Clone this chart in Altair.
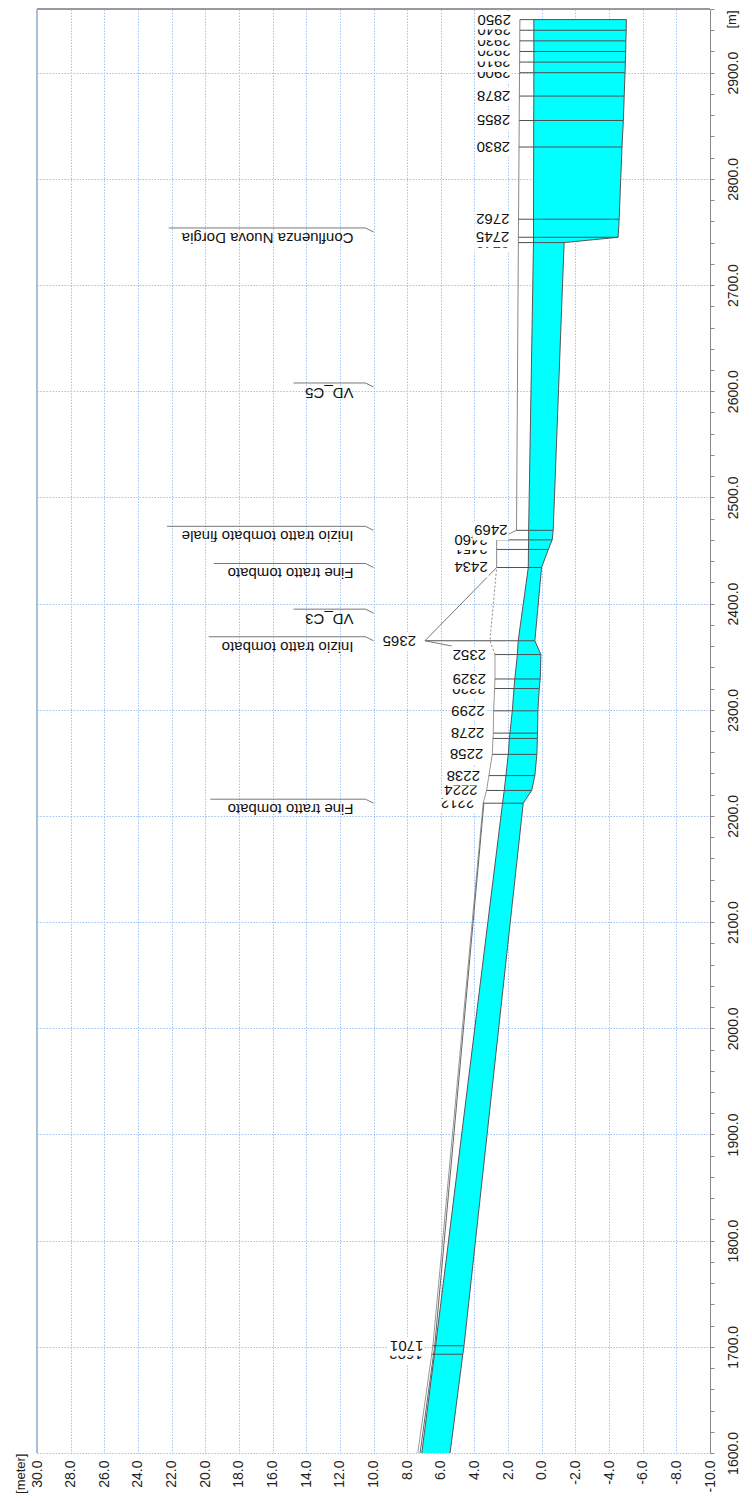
import altair as alt
import pandas as pd

FONT = "Liberation Sans"

# ---------------- data ----------------
prof_ch = [1600, 1693, 1701, 2212, 2224, 2238, 2258, 2273, 2278, 2299, 2320, 2329,
           2352, 2365, 2434, 2451, 2460, 2469, 2740, 2745, 2762, 2830, 2855, 2878,
           2900, 2910, 2920, 2930, 2940, 2950]
bed_elev = [5.45, 4.69, 4.62, 1.10, 0.60, 0.41, 0.29, 0.26, 0.25, 0.23, 0.15, 0.09,
            0.05, 0.41, 0.01, -0.39, -0.62, -0.68, -1.33, -4.54, -4.60, -4.77, -4.85, -4.90,
            -4.95, -4.97, -4.99, -5.00, -5.02, -5.03]
ws_elev = [7.13, 6.38, 6.31, 2.33, 2.23, 2.13, 1.99, 1.92, 1.89, 1.75, 1.65, 1.60,
           1.45, 1.40, 0.80, 0.79, 0.78, 0.78, 0.49, 0.49, 0.49, 0.48, 0.48, 0.47,
           0.47, 0.47, 0.47, 0.47, 0.47, 0.47]

xs_ch = [1693, 1701, 2212, 2224, 2238, 2258, 2273, 2278, 2299, 2320, 2329, 2352,
         2365, 2434, 2451, 2460, 2469, 2740, 2745, 2762, 2830, 2855, 2878,
         2900, 2910, 2920, 2930, 2940, 2950]
xs_top = [6.55, 6.50, 3.48, 3.28, 3.14, 2.94, 2.90, 2.88, 2.86, 2.80, 2.78, 2.78,
          6.94, 2.68, 2.68, 2.68, 1.50, 1.39, 1.39, 1.38, 1.35, 1.34, 1.33,
          1.32, 1.32, 1.31, 1.31, 1.30, 1.30]
xs_label = ["1693", "1701", "2212", "2224", "2238", "2258", "2273", "2278", "2299",
            "2320", "2329", "2352", "2365", "2434", "2451", "2460", "2469", "2740",
            "2745", "2762", "2830", "2855", "2878", "2900", "2910", "2920", "2930",
            "2940", "2950"]

bank1_ch = [1600, 1693, 1701, 2212, 2224, 2238, 2258, 2273, 2278, 2299, 2320, 2329, 2352]
bank1_elev = [7.37, 6.54, 6.47, 3.48, 3.28, 3.14, 2.94, 2.90, 2.88, 2.86, 2.80, 2.78, 2.78]
bank2_ch = [1600, 1701, 2212]
bank2_elev = [7.23, 6.36, 3.44]
culvert_ch = [2352, 2365, 2434]
culvert_elev = [2.78, 3.08, 2.68]
bank3_ch = [2434, 2451, 2460, 2469, 2740, 2745, 2762, 2830, 2855, 2878, 2900, 2950]
bank3_elev = [2.68, 2.68, 2.68, 1.50, 1.39, 1.39, 1.38, 1.35, 1.34, 1.33, 1.32, 1.30]

lead_from = (6.94, 2365)
lead_to_elev = [2.68, 5.35]
lead_to_ch = [2434, 2360]

ann_text = ["Confluenza Nuova Dorgia", "VD_C5", "Inizio tratto tombato finale",
            "Fine tratto tombato", "VD_C3", "Inizio tratto tombato", "Fine tratto tombato"]
ann_ch = [2750, 2604, 2469, 2434, 2391, 2365, 2212]
ann_ext = [22.17, 14.75, 22.27, 19.5, 14.75, 19.8, 19.7]
ann_anchor = 10.0

elev_ticks = list(range(-10, 31, 2))
ch_ticks = list(range(1600, 2961, 20))

# ---------------- tables ----------------
prof = pd.DataFrame({"ch": prof_ch, "bed": bed_elev, "ws": ws_elev})
bed_at = dict(zip(prof_ch, bed_elev))
xs = pd.DataFrame({"ch": xs_ch, "top": xs_top, "bed": [bed_at[c] for c in xs_ch],
                   "lab": xs_label})
bank1 = pd.DataFrame({"ch": bank1_ch, "e": bank1_elev})
bank2 = pd.DataFrame({"ch": bank2_ch, "e": bank2_elev})
bank3 = pd.DataFrame({"ch": bank3_ch, "e": bank3_elev})
culv = pd.DataFrame({"ch": culvert_ch, "e": culvert_elev})
leads = pd.DataFrame({"x0": [lead_from[0]] * len(lead_to_elev),
                      "y0": [lead_from[1]] * len(lead_to_elev),
                      "x1": lead_to_elev, "y1": lead_to_ch})
ann = pd.DataFrame({"txt": ann_text, "ch": ann_ch, "ext": ann_ext,
                    "ae": [ann_anchor] * len(ann_text)})

# ---------------- scales / axes ----------------
GRID = "#9cc3f5"
xscale = alt.Scale(domain=[-10, 30], reverse=True, nice=False, zero=False)
yscale = alt.Scale(domain=[1600, 2960], nice=False, zero=False)

xaxis = alt.Axis(
    orient="bottom", values=elev_ticks,
    labelExpr="replace(format(datum.value, '.1f'), '\u2212', '-')",
    labelAngle=270, labelAlign="right", labelBaseline="middle", labelPadding=7,
    labelFont=FONT, labelFontSize=14, labelColor="#222",
    labelFlush=False, labelOverlap=False, labelBound=False,
    ticks=False, domain=False,
    grid=True, gridColor=GRID, gridDash=[1.5, 1.5], gridWidth=1,
    title="[meter]", titleAngle=270, titleAlign="right", titleBaseline="middle",
    titleX=-17, titleY=0, titleFont=FONT, titleFontSize=13,
    titleFontWeight="normal", titleColor="#222",
)
yaxis = alt.Axis(
    orient="right", values=ch_ticks,
    labelExpr="datum.value % 100 === 0 ? format(datum.value, '.1f') : ''",
    labelAngle=270, labelAlign="center", labelBaseline="top", labelPadding=12,
    labelFont=FONT, labelFontSize=14, labelColor="#222",
    labelFlush=False, labelOverlap=False, labelBound=False,
    tickSize=4, tickColor="#888", domain=True, domainColor="#888",
    grid=True, gridColor=GRID, gridDash=[1.5, 1.5], gridWidth=1,
    gridOpacity={"condition": {"test": "datum.value % 100 === 0", "value": 1}, "value": 0},
    title="[m]", titleAngle=270, titleAlign="right", titleBaseline="middle",
    titleX=21, titleY=1, titleFont=FONT, titleFontSize=13,
    titleFontWeight="normal", titleColor="#222",
)


def X(f):
    return alt.X(f, type="quantitative", scale=xscale, axis=xaxis, stack=None)


def Y(f):
    return alt.Y(f, type="quantitative", scale=yscale, axis=yaxis)


layers = []

# water body
layers.append(alt.Chart(prof).mark_area(color="#00FFFF", fill="#00FFFF", opacity=1,
                                        fillOpacity=1, orient="horizontal")
              .encode(x=X("ws"), x2=alt.X2("bed"), y=Y("ch")))
layers.append(alt.Chart(prof).mark_line(color="#555555", strokeWidth=1)
              .encode(x=X("ws"), y=Y("ch"), order="ch:Q"))
layers.append(alt.Chart(prof).mark_line(color="#555555", strokeWidth=1)
              .encode(x=X("bed"), y=Y("ch"), order="ch:Q"))

# bank / top lines
layers.append(alt.Chart(bank1).mark_line(color="#999999", strokeWidth=1)
              .encode(x=X("e"), y=Y("ch"), order="ch:Q"))
layers.append(alt.Chart(bank2).mark_line(color="#666666", strokeWidth=1)
              .encode(x=X("e"), y=Y("ch"), order="ch:Q"))
layers.append(alt.Chart(bank3).mark_line(color="#888888", strokeWidth=1)
              .encode(x=X("e"), y=Y("ch"), order="ch:Q"))
layers.append(alt.Chart(culv).mark_line(color="#888888", strokeWidth=1, strokeDash=[2, 2])
              .encode(x=X("e"), y=Y("ch"), order="ch:Q"))

# cross-section lines
layers.append(alt.Chart(xs).mark_rule(color="#505050", strokeWidth=1)
              .encode(x=X("top"), x2="bed", y=Y("ch")))
# leaders of the culvert label
layers.append(alt.Chart(leads).mark_rule(color="#777777", strokeWidth=1)
              .encode(x=X("x0"), x2="x1", y=Y("y0"), y2="y1"))

# description annotations
layers.append(alt.Chart(ann).mark_rule(color="#777777", strokeWidth=1, x2Offset=-8, y2Offset=-4)
              .encode(x=X("ae"), x2="ae", y=Y("ch"), y2="ch"))
layers.append(alt.Chart(ann).mark_rule(color="#777777", strokeWidth=1, xOffset=-8, yOffset=-4)
              .encode(x=X("ae"), x2="ext", y=Y("ch")))
layers.append(alt.Chart(ann).mark_text(angle=180, align="left", baseline="middle",
                                       xOffset=-20, yOffset=6, fontSize=15, font=FONT,
                                       color="#111111")
              .encode(x=X("ae"), y=Y("ch"), text="txt"))

# plot frame (top and left)
layers.append(alt.Chart(prof).mark_rule(color="#999999", strokeWidth=1)
              .encode(x=alt.value(0), x2=alt.value(673), y=alt.value(0)))
layers.append(alt.Chart(prof).mark_rule(color="#a9bfd6", strokeWidth=1)
              .encode(x=alt.value(0), y=alt.value(0), y2=alt.value(1444)))

# cross-section labels, each with a white box; higher chainage drawn on top
BOX = "M-1,-0.5L1,-0.5L1,0.5L-1,0.5Z"
for c in sorted(xs_ch):
    base = alt.Chart(xs).transform_filter(alt.datum.ch == c)
    layers.append(base.mark_point(shape=BOX, filled=True, color="white", opacity=1,
                                  size=1296, strokeWidth=0, xOffset=-26, yOffset=1)
                  .encode(x=X("top"), y=Y("ch")))
    layers.append(base.mark_text(angle=180, align="left", baseline="middle", xOffset=-9,
                                 fontSize=15, font=FONT, color="#111111")
                  .encode(x=X("top"), y=Y("ch"), text="lab:N"))

chart = alt.layer(*layers).properties(
    width=673, height=1444,
    autosize=alt.AutoSizeParams(type="none"),
    padding={"left": 37, "top": 9, "right": 42, "bottom": 48},
    background="white",
).configure_view(stroke=None)

chart.save("out.html", embed_options={"renderer": "svg", "actions": False})
